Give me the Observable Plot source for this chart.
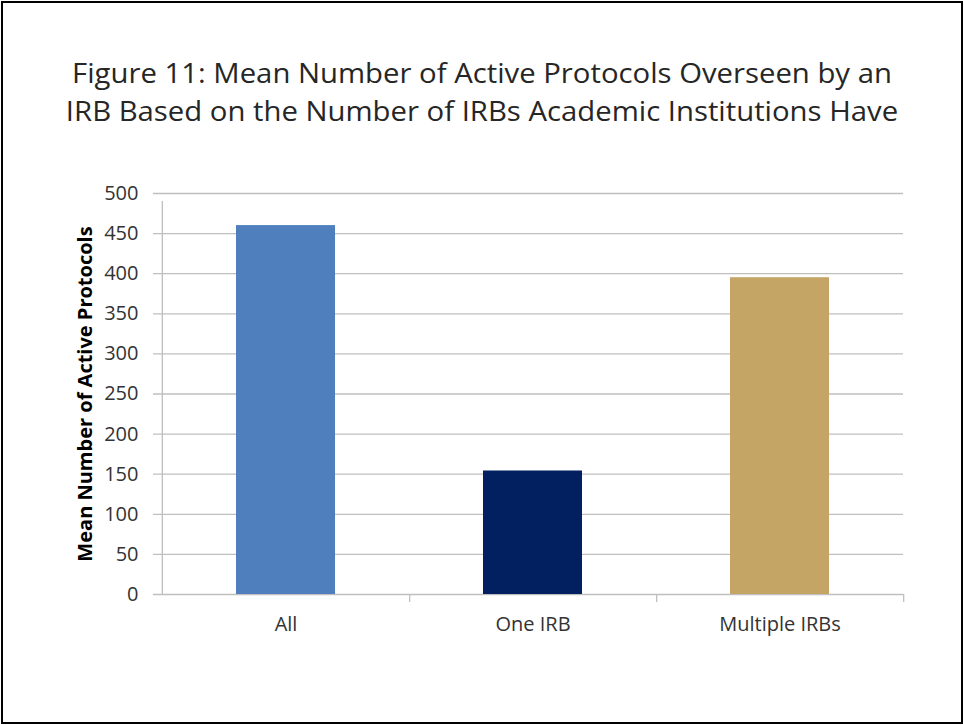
<!DOCTYPE html>
<html>
<head>
<meta charset="utf-8">
<script src="https://cdn.jsdelivr.net/npm/d3@7"></script>
<script src="https://cdn.jsdelivr.net/npm/@observablehq/plot@0.6"></script>
<style>
  html, body { margin: 0; padding: 0; background: #fff; }
  #wrap { position: relative; width: 964px; height: 725px; overflow: hidden; font-family: "Open Sans", Lato, sans-serif; }
  #frame { position: absolute; left: 1px; top: 1px; width: 958px; height: 719px; border: 2px solid #000; pointer-events: none; }
  #title { position: absolute; left: 0; top: 54px; width: 964px; text-align: center; font-size: 27px; line-height: 38px; color: #262626; transform: scaleX(1.085); transform-origin: 482px 0; }
  #chart { position: absolute; left: 0; top: 0; }
</style>
</head>
<body>
<div id="wrap">
  <div id="chart"></div>
  <div id="title">Figure 11: Mean Number of Active Protocols Overseen by an<br>IRB Based on the Number of IRBs Academic Institutions Have</div>
  <div id="frame"></div>
</div>
<script>
const categories = ["All", "One IRB", "Multiple IRBs"];
const values = [460, 154, 395];
const colors = ["#4f80bd", "#022060", "#c4a565"];
const yTicks = [0, 50, 100, 150, 200, 250, 300, 350, 400, 450, 500];
const yLabel = "Mean Number of Active Protocols";

const data = categories.map((c, i) => ({category: c, value: values[i]}));

const W = 964, H = 725;
const mL = 161, mR = 61, mT = 193, mB = 131;
const step = (W - mL - mR) / categories.length;
const grid = "#bfbfbf";
const font = "'Open Sans', Lato, sans-serif";

const chart = Plot.plot({
  width: W,
  height: H,
  marginLeft: mL,
  marginRight: mR,
  marginTop: mT,
  marginBottom: mB,
  style: {fontFamily: font, background: "transparent"},
  x: {domain: categories, paddingInner: 0.6, paddingOuter: 0.3, axis: null, label: null},
  y: {domain: [0, 500], axis: null, label: null},
  color: {domain: categories, range: colors},
  marks: [
    Plot.ruleY(yTicks, {stroke: grid, strokeWidth: 1.3, insetLeft: -8}),
    Plot.ruleX(categories.slice(0, 1), {y1: 0, y2: 500, dx: -step / 2, stroke: grid, strokeWidth: 1.3, insetBottom: -8}),
    Plot.ruleX(categories, {y1: 0, y2: 0, dx: step / 2, stroke: grid, strokeWidth: 1.3, insetBottom: -8}),
    Plot.barY(data, {x: "category", y: "value", fill: "category"}),
    Plot.axisY(yTicks, {label: null, tickSize: 0, tickPadding: 23, fontSize: 20, fill: "#333"}),
    Plot.axisX({label: null, tickSize: 0, tickPadding: 22, fontSize: 20, fill: "#333"}),
    Plot.text([yLabel], {frameAnchor: "left", textAnchor: "middle", dx: -76, rotate: -90, fontSize: 20, fontWeight: "bold", fill: "#000"})
  ]
});
document.getElementById("chart").appendChild(chart);
</script>
</body>
</html>
